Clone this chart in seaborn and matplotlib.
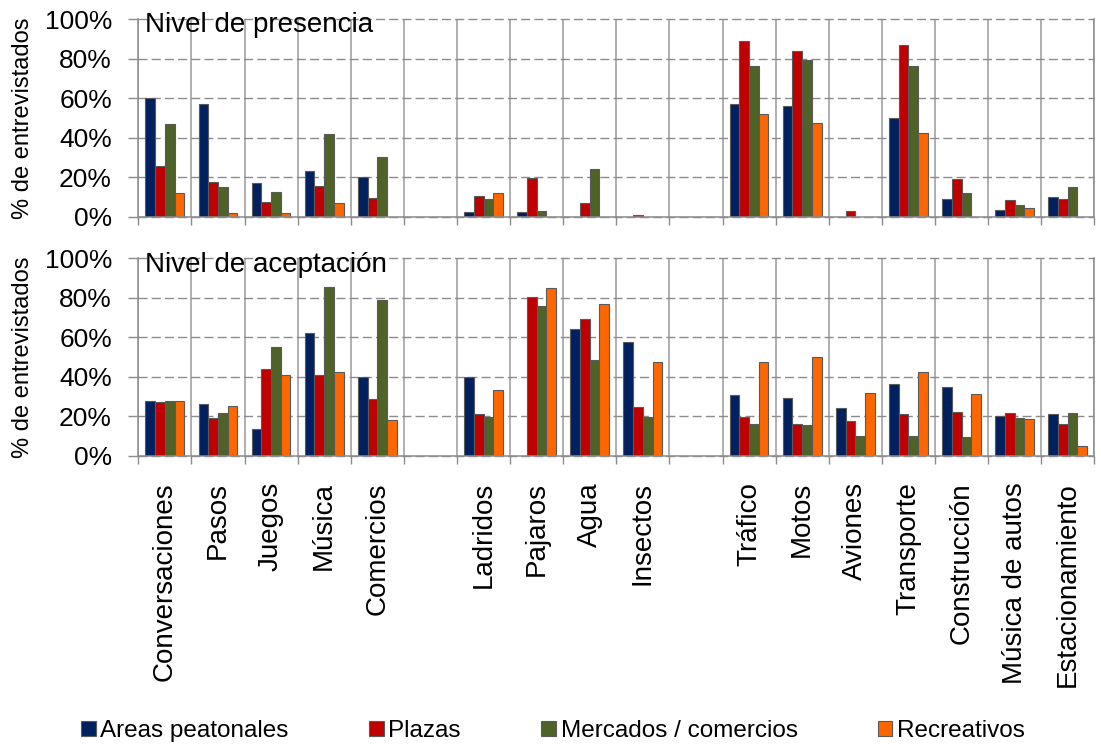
import matplotlib
matplotlib.use("Agg")
import matplotlib.pyplot as plt
from matplotlib.ticker import FixedLocator, FuncFormatter
import seaborn as sns
import pandas as pd

# Sound sources, in three groups (human activity, nature, machines)
fuentes_humanas = ["Conversaciones", "Pasos", "Juegos", "Música", "Comercios"]
fuentes_naturales = ["Ladridos", "Pajaros", "Agua", "Insectos"]
fuentes_mecanicas = ["Tráfico", "Motos", "Aviones", "Transporte", "Construcción",
                     "Música de autos", "Estacionamiento"]

sitios = ["Areas peatonales", "Plazas", "Mercados / comercios", "Recreativos"]
colores = ["#002060", "#C00000", "#4F6228", "#FF6600"]

# Nivel de presencia (% de entrevistados), same order as the sources above
pres_areas = [60, 57, 17, 23, 20, 2.4, 2.2, 0, 0, 57, 56, 0, 50, 9, 3.5, 10]
pres_plazas = [25.5, 17.5, 7.5, 15.5, 9.5, 10.5, 19.5, 7, 1, 89, 84, 3, 87, 19, 8.5, 9]
pres_mercados = [47, 15, 12.5, 42, 30, 9, 3, 24, 0, 76.5, 79.5, 0, 76.5, 12, 6, 15]
pres_recreativos = [12, 2, 2, 7, 0, 12, 0, 0, 0, 52, 47.5, 0, 42.5, 0, 4.5, 0]

# Nivel de aceptación (% de entrevistados)
acep_areas = [27.5, 26, 13.5, 62, 40, 40, 0, 64, 57.5, 30.5, 29, 24, 36.5, 35, 20, 21]
acep_plazas = [27, 19, 44, 41, 28.5, 21, 80.5, 69.5, 24.5, 19.5, 16, 17.5, 21, 22, 21.5, 16]
acep_mercados = [27.5, 21.5, 55, 85.5, 79, 19.5, 76, 48.5, 19.5, 16, 15.5, 10, 10, 9.5, 19, 21.5]
acep_recreativos = [27.5, 25, 41, 42.5, 18, 33.5, 85, 77, 47.5, 47.5, 50, 32, 42.5, 31.5, 18.5, 5]

fuentes = fuentes_humanas + fuentes_naturales + fuentes_mecanicas
# empty slots separate the three groups on the x axis
orden = fuentes_humanas + [" "] + fuentes_naturales + ["  "] + fuentes_mecanicas


def tabla(series):
    filas = []
    for sitio, valores in zip(sitios, series):
        for fuente, v in zip(fuentes, valores):
            if v > 0:
                filas.append({"fuente": fuente, "sitio": sitio, "pct": v})
    return pd.DataFrame(filas)


df_pres = tabla([pres_areas, pres_plazas, pres_mercados, pres_recreativos])
df_acep = tabla([acep_areas, acep_plazas, acep_mercados, acep_recreativos])

sns.set_theme(style="white")
plt.rcParams["font.family"] = ["Liberation Sans", "DejaVu Sans"]
plt.rcParams.update({"text.color": "black", "axes.labelcolor": "black",
                     "xtick.labelcolor": "black", "ytick.labelcolor": "black"})

W, H = 1101, 744
fig = plt.figure(figsize=(W / 100, H / 100), dpi=100)

left = 138.3 / W
width = (1094.3 - 138.3) / W
ax_h = 197.4 / H
ax_top = fig.add_axes([left, 1 - 216.7 / H, width, ax_h])
ax_bot = fig.add_axes([left, 1 - 455.7 / H, width, ax_h])

grid_gray = "#8c8c8c"
axis_gray = "#8c8c8c"


def dibujar(ax, df, titulo, y_titulo, etiquetas):
    sns.barplot(data=df, x="fuente", y="pct", hue="sitio", order=orden,
                hue_order=sitios, palette=colores, width=0.73,
                edgecolor="#5a5a5a", linewidth=0.8, saturation=1,
                ax=ax, legend=True)
    ax.set_xlim(-0.5, len(orden) - 0.5)
    ax.set_ylim(0, 100)
    ax.set_xlabel("")
    ax.set_ylabel("")
    ax.yaxis.set_major_locator(FixedLocator([0, 20, 40, 60, 80, 100]))
    ax.yaxis.set_major_formatter(FuncFormatter(lambda v, _: f"{v:.0f}%"))
    ax.tick_params(axis="y", labelsize=19, direction="out", length=7,
                   width=1, color=axis_gray, pad=12, left=True,
                   labelcolor="black")
    ax.grid(axis="y", which="major", linestyle=(0, (6.5, 3)),
            color=grid_gray, linewidth=1.0, zorder=0)
    for gl in ax.get_ygridlines():
        gl.set_clip_on(False)
    # category boundaries: solid vertical lines and outward tick marks
    ax.xaxis.set_minor_locator(FixedLocator([i - 0.5 for i in range(len(orden) + 1)]))
    ax.grid(axis="x", which="minor", linestyle="-", color="#9a9a9a",
            linewidth=1.1, zorder=0)
    ax.tick_params(axis="x", which="minor", direction="out", length=6,
                   width=1, color=axis_gray, bottom=True)
    ax.tick_params(axis="x", which="major", length=0, pad=19, labelsize=20,
                   labelcolor="black")
    ax.set_axisbelow(True)
    if etiquetas:
        ax.set_xticks(range(len(orden)))
        ax.set_xticklabels(orden, rotation=90, va="top", ha="center")
    else:
        ax.set_xticklabels([])
    ax.spines["top"].set_visible(False)
    for side in ["left", "bottom", "right"]:
        ax.spines[side].set_color(axis_gray)
        ax.spines[side].set_linewidth(1.1)
    ax.text(0.007, y_titulo, titulo, transform=ax.transAxes, fontsize=20,
            ha="left", va="baseline", color="black")
    handles, labels = ax.get_legend_handles_labels()
    ax.get_legend().remove()
    return handles, labels


dibujar(ax_top, df_pres, "Nivel de presencia", 0.936, False)
handles, labels = dibujar(ax_bot, df_acep, "Nivel de aceptación", 0.932, True)

for ax in (ax_top, ax_bot):
    fig.text(23 / W, (ax.get_position().y0 + ax.get_position().y1) / 2,
             "% de entrevistados", rotation=90, ha="center", va="center",
             fontsize=17, color="black")

fig.legend(handles, labels, loc="center", bbox_to_anchor=(0.5023, 1 - 731 / H),
           ncol=4, frameon=False, fontsize=17.5, handlelength=0.6,
           handleheight=0.55, handletextpad=0.2, columnspacing=3.3)

fig.savefig("out.png", dpi=100)
